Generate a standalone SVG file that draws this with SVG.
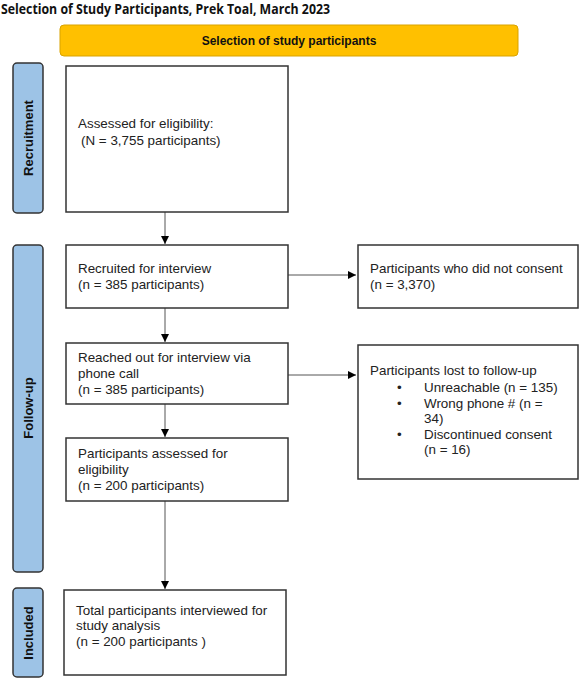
<svg xmlns="http://www.w3.org/2000/svg" width="582" height="679" viewBox="0 0 582 679">
<defs>
<marker id="ah" viewBox="0 0 10 10" refX="10" refY="5" markerWidth="8" markerHeight="8" markerUnits="userSpaceOnUse" orient="auto">
<path d="M0,0 L10,5 L0,10 Z" fill="#000"/>
</marker>
<style>
.box{fill:#fff;stroke:#333;stroke-width:1.5}
.side{fill:#9DC3E6;stroke:#333;stroke-width:1.5}
.t{font-family:"Liberation Sans",Arial,sans-serif;font-size:13.4px;fill:#222}
.sl{font-family:"Liberation Sans",Arial,sans-serif;font-size:13px;font-weight:bold;fill:#111;text-anchor:middle}
.conn{stroke:#555;stroke-width:1;fill:none;marker-end:url(#ah)}
</style>
</defs>
<rect width="582" height="679" fill="#fff"/>
<text x="1" y="14" font-family="'Open Sans',sans-serif" font-size="14" font-weight="bold" fill="#111" textLength="329" lengthAdjust="spacingAndGlyphs">Selection of Study Participants, Prek Toal, March 2023</text>
<g id="banner">
<rect x="60" y="25" width="458" height="31" rx="4" fill="#FFC000" stroke="#D9A300" stroke-width="1"/>
<text x="289" y="45" font-family="'Liberation Sans',Arial,sans-serif" font-size="12" font-weight="bold" fill="#111" text-anchor="middle">Selection of study participants</text>
</g>
<g id="side-recruitment">
<rect class="side" x="13" y="63" width="30" height="150" rx="4"/>
<text class="sl" transform="translate(33,138) rotate(-90)">Recruitment</text>
</g>
<g id="side-followup">
<rect class="side" x="13" y="245" width="30" height="327" rx="4"/>
<text class="sl" transform="translate(33,408) rotate(-90)">Follow-up</text>
</g>
<g id="side-included">
<rect class="side" x="13" y="588" width="30" height="89" rx="4"/>
<text class="sl" transform="translate(33,633) rotate(-90)">Included</text>
</g>
<g id="connectors">
<line class="conn" x1="165" y1="212" x2="165" y2="244"/>
<line class="conn" x1="165" y1="308" x2="165" y2="342"/>
<line class="conn" x1="165" y1="404" x2="165" y2="437"/>
<line class="conn" x1="165" y1="501" x2="165" y2="589"/>
<line class="conn" x1="288" y1="275" x2="356" y2="275"/>
<line class="conn" x1="288" y1="375" x2="356" y2="375"/>
</g>
<g id="assessed">
<rect class="box" x="66" y="66" width="222" height="146"/>
<text class="t" x="78" y="128">Assessed for eligibility:</text>
<text class="t" x="81" y="145">(N = 3,755 participants)</text>
</g>
<g id="recruited">
<rect class="box" x="66" y="245" width="222" height="63"/>
<text class="t" x="78" y="273">Recruited for interview</text>
<text class="t" x="78" y="289">(n = 385 participants)</text>
</g>
<g id="reached">
<rect class="box" x="66" y="343" width="222" height="61"/>
<text class="t" x="78" y="362">Reached out for interview via</text>
<text class="t" x="78" y="378">phone call</text>
<text class="t" x="78" y="394">(n = 385 participants)</text>
</g>
<g id="eligible">
<rect class="box" x="66" y="438" width="222" height="63"/>
<text class="t" x="78" y="458">Participants assessed for</text>
<text class="t" x="78" y="474">eligibility</text>
<text class="t" x="78" y="490">(n = 200 participants)</text>
</g>
<g id="total">
<rect class="box" x="64" y="590" width="222" height="85"/>
<text class="t" x="76" y="615">Total participants interviewed for</text>
<text class="t" x="76" y="630">study analysis</text>
<text class="t" x="76" y="646">(n = 200 participants )</text>
</g>
<g id="noconsent">
<rect class="box" x="358" y="245" width="220" height="63"/>
<text class="t" x="370" y="273">Participants who did not consent</text>
<text class="t" x="370" y="289">(n = 3,370)</text>
</g>
<g id="lost">
<rect class="box" x="358" y="345" width="220" height="134"/>
<text class="t" x="370" y="375">Participants lost to follow-up</text>
<text class="t" x="397" y="392">•</text>
<text class="t" x="424" y="392">Unreachable (n = 135)</text>
<text class="t" x="397" y="408">•</text>
<text class="t" x="424" y="408">Wrong phone # (n =</text>
<text class="t" x="424" y="423">34)</text>
<text class="t" x="397" y="439">•</text>
<text class="t" x="424" y="439">Discontinued consent</text>
<text class="t" x="424" y="454">(n = 16)</text>
</g>
</svg>
